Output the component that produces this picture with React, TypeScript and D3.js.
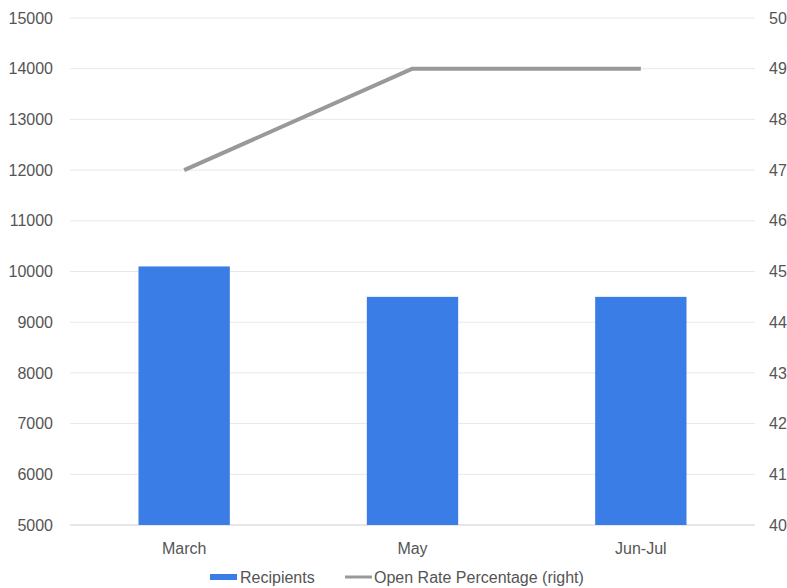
import React from "react";
import * as d3 from "d3";

const categories = ["March", "May", "Jun-Jul"];
const recipients = [10100, 9500, 9500];
const openRate = [47, 49, 49];
const leftTicks = [5000, 6000, 7000, 8000, 9000, 10000, 11000, 12000, 13000, 14000, 15000];
const rightTicks = [40, 41, 42, 43, 44, 45, 46, 47, 48, 49, 50];

const W = 787, H = 588;
const M = { left: 70, right: 32, top: 18, bottom: 63 };

export default function App() {
  const x = d3.scaleBand<string>().domain(categories).range([M.left, W - M.right]).paddingInner(0.6).paddingOuter(0.3);
  const yL = d3.scaleLinear().domain([5000, 15000]).range([H - M.bottom, M.top]);
  const yR = d3.scaleLinear().domain([40, 50]).range([H - M.bottom, M.top]);
  const line = d3.line<number>().x((_, i) => (x(categories[i]) as number) + x.bandwidth() / 2).y((d) => yR(d));
  const font = "'Liberation Sans', Arial, sans-serif";
  const fs = 16;
  return (
    <svg width={W} height={H} style={{ position: "absolute", left: 0, top: 0, background: "#fff" }} fontFamily={font}>
      {leftTicks.map((t) => (
        <line key={"g" + t} x1={M.left} x2={W - M.right} y1={yL(t)} y2={yL(t)} stroke={t === 5000 ? "#cfcfcf" : "#e8e8e8"} strokeWidth={1} />
      ))}
      {leftTicks.map((t) => (
        <text key={"l" + t} x={53} y={yL(t)} dy="0.35em" textAnchor="end" fontSize={fs} fill="#555">{t}</text>
      ))}
      {rightTicks.map((t) => (
        <text key={"r" + t} x={769} y={yR(t)} dy="0.35em" textAnchor="start" fontSize={fs} fill="#555">{t}</text>
      ))}
      {categories.map((c, i) => (
        <rect key={c} x={x(c)} y={yL(recipients[i])} width={x.bandwidth()} height={yL(5000) - yL(recipients[i])} fill="#3a7de6" />
      ))}
      <path d={line(openRate) || ""} fill="none" stroke="#999" strokeWidth={4} strokeLinejoin="round" />
      {categories.map((c) => (
        <text key={"c" + c} x={(x(c) as number) + x.bandwidth() / 2} y={548} dy="0.35em" textAnchor="middle" fontSize={fs} fill="#555">{c}</text>
      ))}
      <g>
        <rect x={210} y={574} width={27} height={6} fill="#3a7de6" />
        <text x={240} y={577} dy="0.35em" fontSize={fs} fill="#555">Recipients</text>
        <line x1={345} x2={372} y1={577} y2={577} stroke="#999" strokeWidth={3} />
        <text x={374} y={577} dy="0.35em" fontSize={fs} fill="#555">Open Rate Percentage (right)</text>
      </g>
    </svg>
  );
}
